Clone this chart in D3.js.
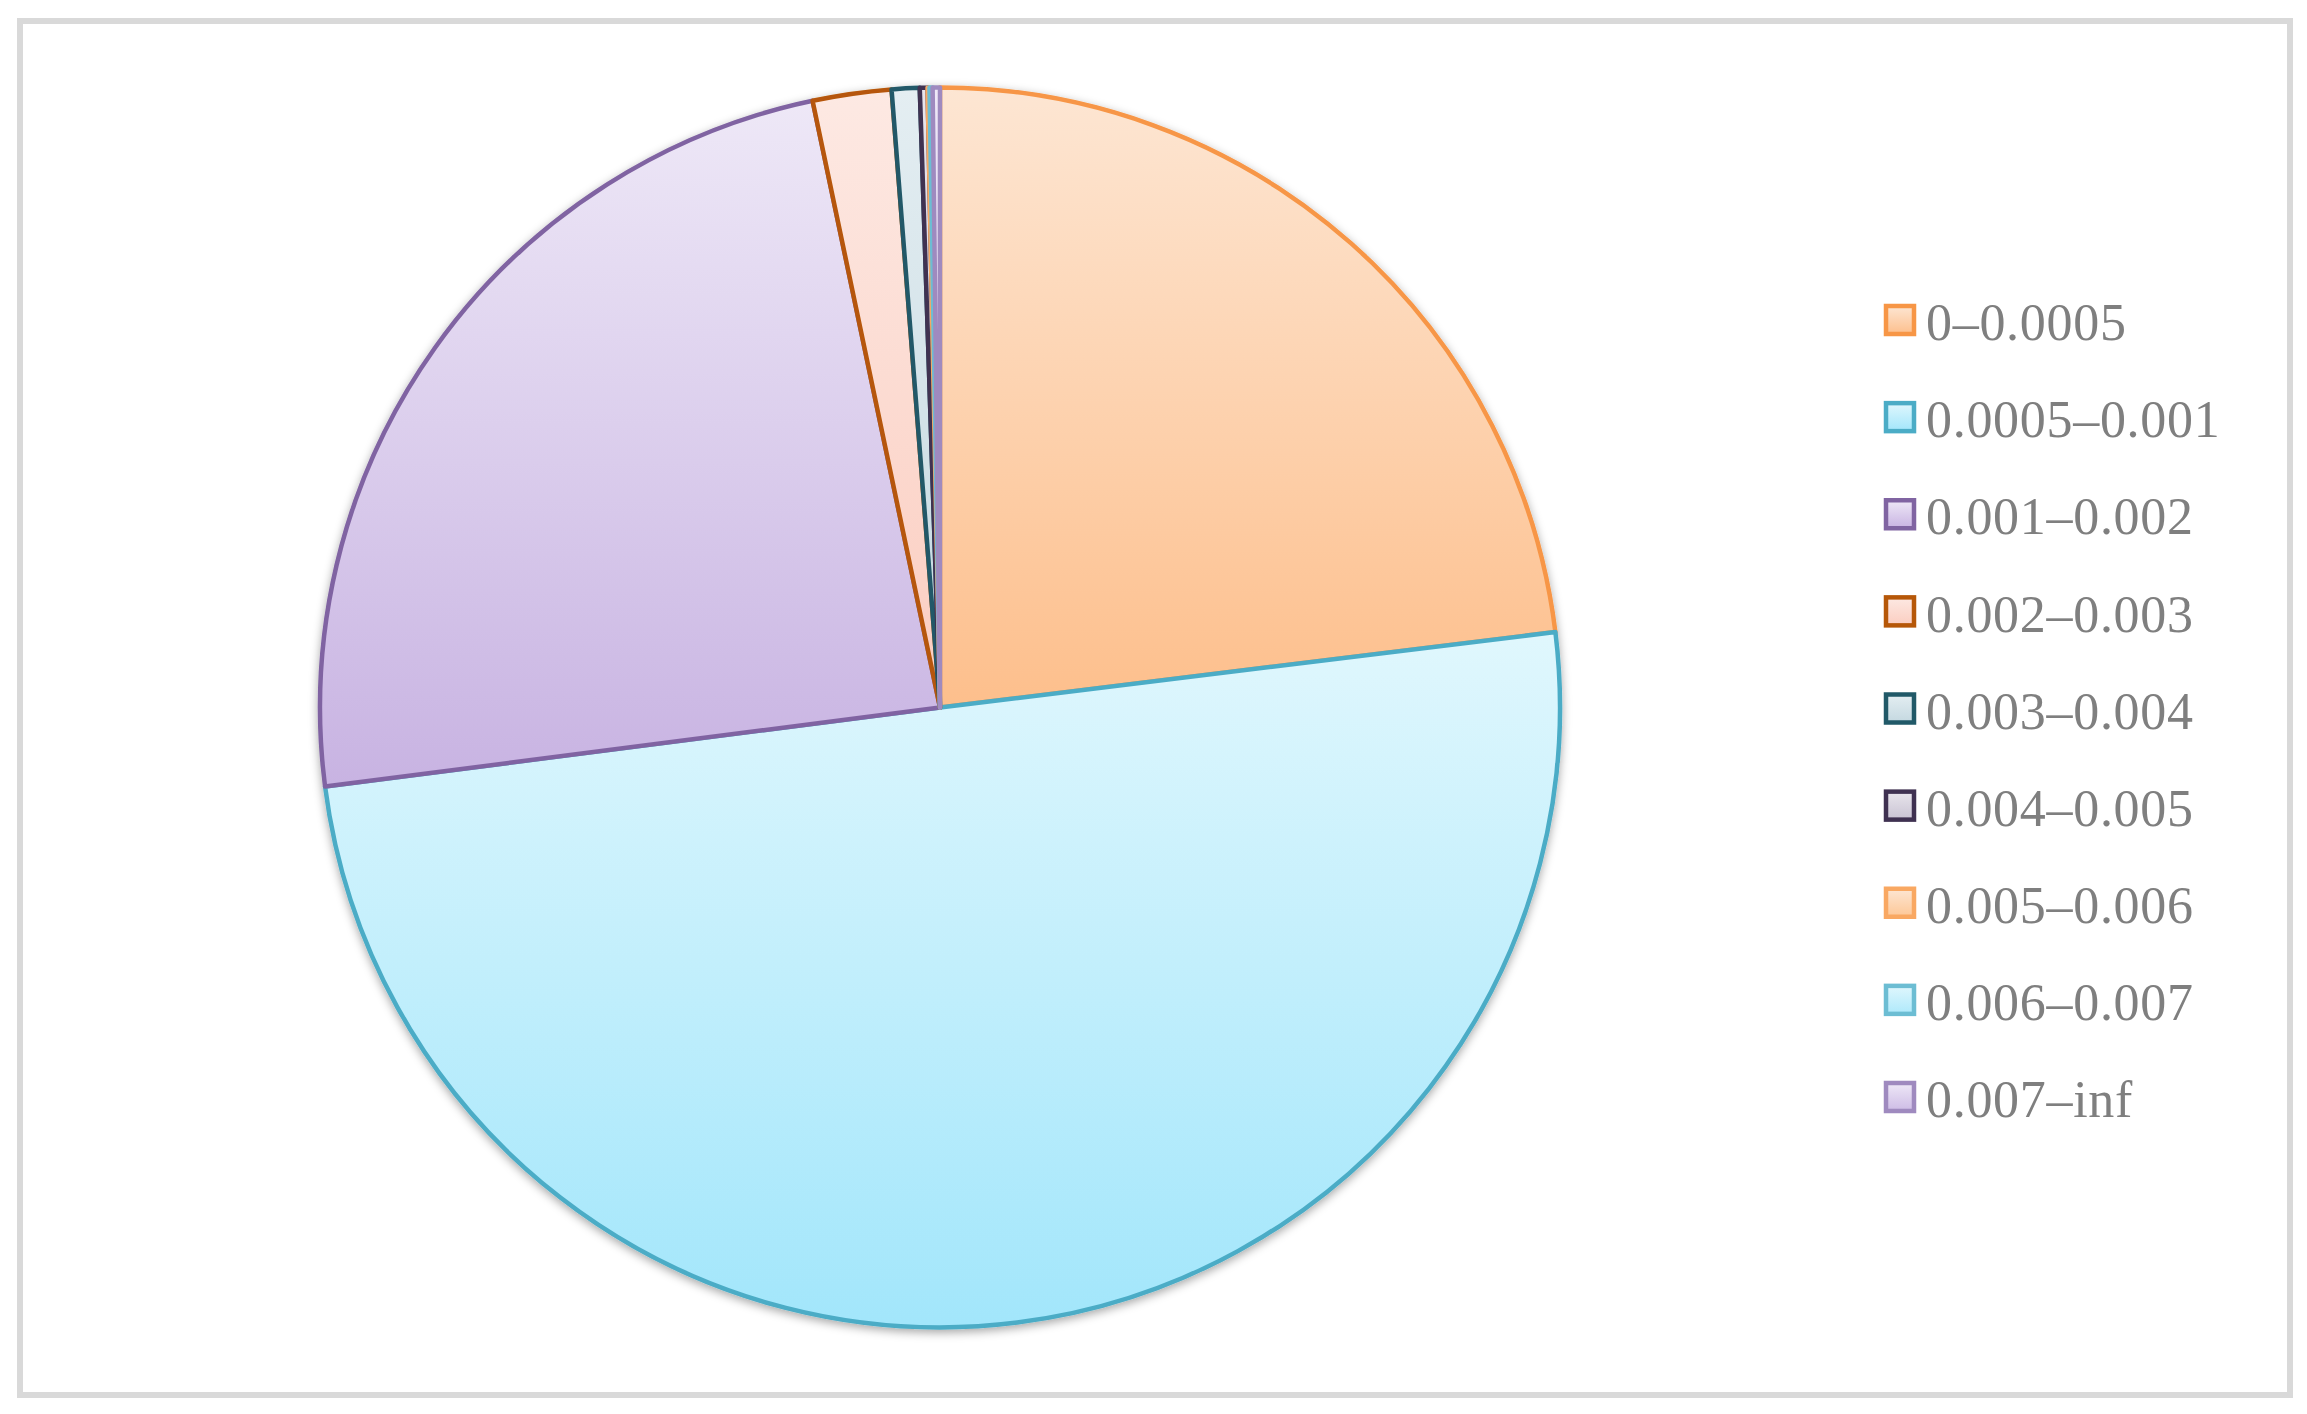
<!DOCTYPE html>
<html>
<head>
<meta charset="utf-8">
<script src="https://cdn.jsdelivr.net/npm/d3@7"></script>
<style>
  body { margin: 0; background: #fff; }
  svg { display: block; }
</style>
</head>
<body>
<svg id="chart"></svg>
<script>
// share of each range (percent)
var categories = ["0–0.0005", "0.0005–0.001", "0.001–0.002", "0.002–0.003", "0.003–0.004",
                  "0.004–0.005", "0.005–0.006", "0.006–0.007", "0.007–inf"];
var values = [23.06, 49.91, 23.74, 2.05, 0.725, 0.2, 0.05, 0.08, 0.19];

// styles: stroke, gradient top, gradient bottom
var strokes = ["#f79646", "#4bacc6", "#8064a2", "#b65708", "#215968", "#3f3151", "#f9a862", "#6cbdd3", "#9f8abf"];
var topCols = ["#fde6d3", "#e0f7fd", "#eee8f7", "#fde9e3", "#e4eef2", "#e8e5ec", "#fde6d3", "#e0f7fd", "#eee8f7"];
var botCols = ["#fdbf8c", "#a2e6fb", "#c8b3e2", "#fbcdc0", "#c4d8e0", "#c9c3d3", "#fdc796", "#aee9fb", "#cdbbe5"];

var W = 2307, H = 1414;
var svg = d3.select("#chart").attr("width", W).attr("height", H);

var defs = svg.append("defs");
categories.forEach(function(c, i) {
  var g = defs.append("linearGradient")
    .attr("id", "grad" + i)
    .attr("x1", 0).attr("y1", 0).attr("x2", 0).attr("y2", 1);
  g.append("stop").attr("offset", "0%").attr("stop-color", topCols[i]);
  g.append("stop").attr("offset", "100%").attr("stop-color", botCols[i]);
});
var shadow = defs.append("filter").attr("id", "shadow")
  .attr("x", "-10%").attr("y", "-10%").attr("width", "120%").attr("height", "120%");
shadow.append("feDropShadow")
  .attr("dx", 0).attr("dy", 3).attr("stdDeviation", 5)
  .attr("flood-color", "#000").attr("flood-opacity", 0.35);

// outer frame
svg.append("rect")
  .attr("x", 20).attr("y", 21)
  .attr("width", 2270).attr("height", 1374)
  .attr("fill", "#fff")
  .attr("stroke", "#d9d9d9")
  .attr("stroke-width", 6);

var cx = 940, cy = 707.5, radius = 620;

var pie = d3.pie().sort(null).value(function(d) { return d; });
var arc = d3.arc().innerRadius(0).outerRadius(radius);

var pieG = svg.append("g")
  .attr("transform", "translate(" + cx + "," + cy + ")")
  .attr("filter", "url(#shadow)");

pieG.selectAll("path")
  .data(pie(values))
  .enter()
  .append("path")
  .attr("d", arc)
  .attr("fill", function(d, i) { return "url(#grad" + i + ")"; })
  .attr("stroke", function(d, i) { return strokes[i]; })
  .attr("stroke-width", 4.5)
  .attr("stroke-linejoin", "round");

// legend
var legY = d3.scalePoint()
  .domain(categories)
  .range([322, 1099]);

var leg = svg.append("g").attr("class", "legend");
var items = leg.selectAll("g")
  .data(categories)
  .enter()
  .append("g")
  .attr("transform", function(d) { return "translate(1886," + legY(d) + ")"; });

items.append("rect")
  .attr("x", 0).attr("y", -16)
  .attr("width", 28).attr("height", 28)
  .attr("fill", function(d, i) { return "url(#grad" + i + ")"; })
  .attr("stroke", function(d, i) { return strokes[i]; })
  .attr("stroke-width", 4.5);

items.append("text")
  .attr("x", 40)
  .attr("y", 0)
  .attr("dy", "0.35em")
  .attr("font-family", "'Liberation Serif', 'Times New Roman', serif")
  .attr("font-size", 52)
  .attr("letter-spacing", 0.7)
  .attr("fill", "#7f7f7f")
  .text(function(d) { return d; });
</script>
</body>
</html>
